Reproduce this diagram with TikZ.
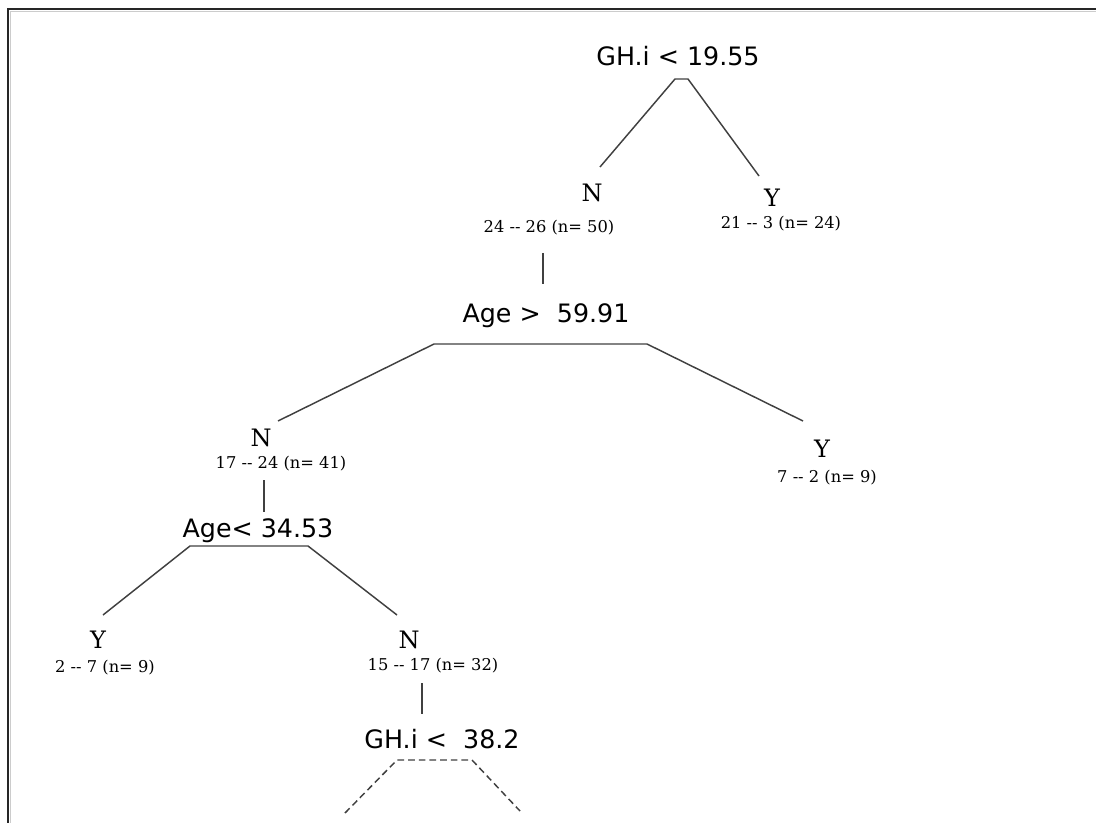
\documentclass[tikz,border=0pt]{standalone}
\usepackage{fontspec}
\setmainfont{DejaVu Serif}
\setsansfont{DejaVu Sans}
\begin{document}
\begin{tikzpicture}[x=0.75pt,y=-0.75pt,
  split/.style={font=\sffamily\fontsize{19}{21}\selectfont, inner sep=0pt, anchor=base},
  leaf/.style={font=\fontsize{18}{20}\selectfont, inner sep=0pt, anchor=base},
  counts/.style={font=\fontsize{12.2}{14}\selectfont, inner sep=0pt, anchor=base},
  branch/.style={draw=black!75, line width=1.1pt},
  pending/.style={branch, dash pattern=on 5pt off 3pt}]
\useasboundingbox (0,0) rectangle (1096,823);

% window frame
\draw[black!20, line width=1pt] (10.5,823) -- (10.5,11.5) -- (1096,11.5);
\draw[black!85, line width=1.5pt] (8,823) -- (8,9) -- (1096,9);

% split on GH.i
\node[split] (s1) at (678,66) {GH.i < 19.55};
\coordinate (s1a) at (675,79);
\coordinate (s1b) at (688,79);
\coordinate (s1l) at (600,167);
\coordinate (s1r) at (759,176);
\draw[branch] (s1l) -- (s1a) -- (s1b) -- (s1r);

\node[leaf] (n1) at (592,202) {N};
\node[counts] (n1c) at (549,233) {24 {-}{-} 26 (n= 50)};
\node[leaf] (y1) at (772,207) {Y};
\node[counts] (y1c) at (781,229) {21 {-}{-} 3 (n= 24)};

\coordinate (v1a) at (543,253);
\coordinate (v1b) at (543,284);
\draw[branch] (v1a) -- (v1b);

% split on Age
\node[split] (s2) at (546,323) {Age > \ 59.91};
\coordinate (s2a) at (434,344);
\coordinate (s2b) at (647,344);
\coordinate (s2l) at (278,421);
\coordinate (s2r) at (803,421);
\draw[branch] (s2l) -- (s2a) -- (s2b) -- (s2r);

\node[leaf] (n2) at (261,446) {N};
\node[counts] (n2c) at (281,469) {17 {-}{-} 24 (n= 41)};
\node[leaf] (y2) at (822,457) {Y};
\node[counts] (y2c) at (827,483) {7 {-}{-} 2 (n= 9)};

\coordinate (v2a) at (264,480);
\coordinate (v2b) at (264,512);
\draw[branch] (v2a) -- (v2b);

% second split on Age
\node[split] (s3) at (258,537) {Age< 34.53};
\coordinate (s3a) at (190,546);
\coordinate (s3b) at (308,546);
\coordinate (s3l) at (103,615);
\coordinate (s3r) at (397,615);
\draw[branch] (s3l) -- (s3a) -- (s3b) -- (s3r);

\node[leaf] (y3) at (98,648) {Y};
\node[counts] (y3c) at (105,672) {2 {-}{-} 7 (n= 9)};
\node[leaf] (n3) at (409,648) {N};
\node[counts] (n3c) at (433,670) {15 {-}{-} 17 (n= 32)};

\coordinate (v3a) at (422,683);
\coordinate (v3b) at (422,714);
\draw[branch] (v3a) -- (v3b);

% second split on GH.i, subtree not expanded
\node[split] (s4) at (442,748) {GH.i < \ 38.2};
\coordinate (s4a) at (397,760);
\coordinate (s4b) at (472,760);
\coordinate (s4l) at (345,813);
\coordinate (s4r) at (520,811);
\draw[pending] (s4l) -- (s4a) -- (s4b) -- (s4r);
\end{tikzpicture}
\end{document}
